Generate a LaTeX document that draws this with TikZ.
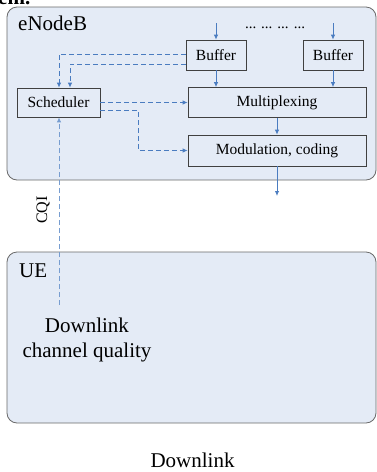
\documentclass[tikz,border=0pt]{standalone}
\usepackage{fontspec}
\setmainfont{Liberation Serif}
\usetikzlibrary{arrows.meta}
\definecolor{panelfill}{HTML}{E4EBF6}
\definecolor{flow}{HTML}{4A7CC0}
\definecolor{rim}{HTML}{6A6A6A}
\begin{document}
\begin{tikzpicture}[x=1pt,y=-1pt,
  panel/.style={draw=rim, fill=panelfill, rounded corners=10pt, line width=0.8pt},
  block/.style={draw=black!75, fill=panelfill, line width=0.7pt, inner sep=0pt,
    font=\fontsize{15.5}{18}\selectfont},
  label/.style={inner sep=0pt, font=\fontsize{21}{24}\selectfont},
  flowline/.style={draw=flow, line width=0.9pt, -{Latex[length=5pt,width=4.5pt]}},
  ctrl/.style={flowline, dash pattern=on 5pt off 3pt},
  feedback/.style={ctrl, draw=flow!75},
]
\useasboundingbox (0,0) rectangle (377,472);

% heading fragment running off the top edge
\node[label, anchor=base west, font=\bfseries\fontsize{21}{24}\selectfont] (frag) at (-2,4) {em.};

% base station and terminal panels
\draw[panel] (7,7) rectangle (376,180);
\draw[panel] (7,252) rectangle (376,423);
\node[label, anchor=base west] (enb) at (18,30) {eNodeB};
\node[label, anchor=base west] (ue) at (19,277) {UE};

% processing blocks
\node[block, minimum width=60pt, minimum height=30pt] (buf1) at (216,55) {Buffer};
\node[block, minimum width=60pt, minimum height=30pt] (buf2) at (333,55) {Buffer};
\node[block, minimum width=83pt, minimum height=29pt] (sched) at (58.5,102.5) {Scheduler};
\node[block, minimum width=178pt, minimum height=30pt] (mux) at (277,102.5) {Multiplexing};
\node[block, minimum width=178pt, minimum height=31pt] (mod) at (277,150.5) {Modulation, coding};
\node[inner sep=0pt, anchor=base, font=\fontsize{15}{18}\selectfont] (dots) at (275,28) {... ... ... ...};

% data path
\coordinate (in1) at (216,23);
\coordinate (in2) at (333,23);
\coordinate (out) at (277,196);
\draw[flowline] (in1) -- (buf1);
\draw[flowline] (in2) -- (buf2);
\draw[flowline] (buf1.south) -- (buf1.south |- mux.north);
\draw[flowline] (buf2.south) -- (buf2.south |- mux.north);
\draw[flowline] (mux) -- (mod);
\draw[flowline] (mod) -- (out);

% control path
\draw[ctrl] (buf1.west |- 0,54) -| (sched.north -| 59,0);
\draw[ctrl] (buf1.west |- 0,64) -| (sched.north -| 70,0);
\draw[ctrl] (sched.east) -- (mux.west);
\coordinate (bend) at (138,150.5);
\draw[ctrl] (sched.east |- 0,110) -| (bend) -- (mod.west);

% channel quality feedback
\coordinate (cqisrc) at (59,305);
\draw[feedback] (cqisrc) -- (sched.south -| cqisrc);
\node[inner sep=0pt, rotate=90, font=\fontsize{16}{18}\selectfont] (cqi) at (43,210) {CQI};
\node[label, anchor=base] (dl1) at (87,332) {Downlink};
\node[label, anchor=base] (dl2) at (87,357) {channel quality};

\node[label, anchor=base] (caption) at (192.5,467) {Downlink};
\end{tikzpicture}
\end{document}
